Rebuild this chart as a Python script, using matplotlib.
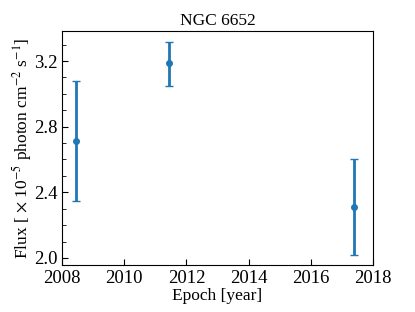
import matplotlib
matplotlib.use("Agg")
import matplotlib.pyplot as plt
from matplotlib.ticker import MultipleLocator

epoch = [2008.46, 2011.44, 2017.40]
flux = [2.712, 3.186, 2.313]
err_lo = [0.364, 0.136, 0.293]
err_hi = [0.366, 0.130, 0.287]

plt.rcParams['font.family'] = ['Liberation Serif', 'DejaVu Serif']
plt.rcParams['mathtext.fontset'] = 'stix'

fig = plt.figure(figsize=(4.15, 3.12), dpi=100)
ax = fig.add_axes([62/415, 1-265/312, (373-62)/415, (265-31)/312])
ax.errorbar(epoch, flux, yerr=[err_lo, err_hi], fmt='o', color='#1f77b4',
            ms=4, elinewidth=2, capsize=3, capthick=1, ecolor='#1f77b4')
ax.set_xlim(2008, 2018)
ax.set_ylim(1.957, 3.383)
ax.xaxis.set_major_locator(MultipleLocator(2))
ax.yaxis.set_major_locator(MultipleLocator(0.4))
ax.yaxis.set_minor_locator(MultipleLocator(0.1))
ax.tick_params(axis='both', which='both', direction='in', labelsize=13.5)
ax.tick_params(which='major', length=4)
ax.tick_params(which='minor', length=3)
ax.set_title('NGC 6652', fontsize=12.5, pad=4)
ax.set_xlabel('Epoch [year]', fontsize=12.5, labelpad=1)
ax.set_ylabel(r'Flux [ $\times$ 10$^{-5}$ photon cm$^{-2}$ s$^{-1}$]', fontsize=12.5, labelpad=0)
fig.savefig('out.png', dpi=100)
